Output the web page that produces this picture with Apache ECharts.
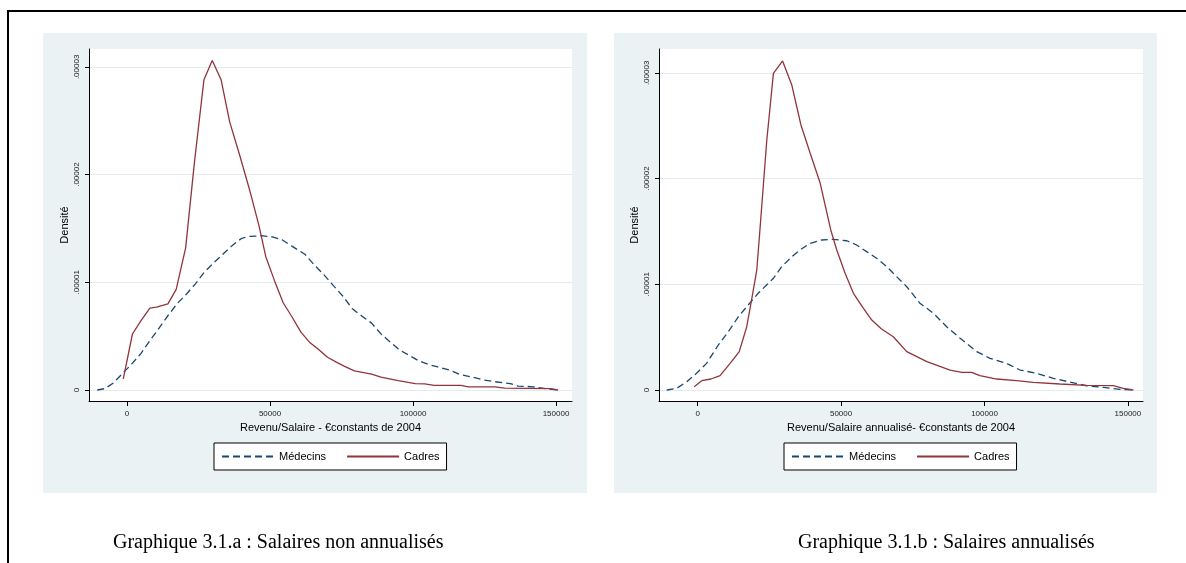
<!DOCTYPE html>
<html>
<head>
<meta charset="utf-8">
<script src="https://cdn.jsdelivr.net/npm/echarts@6/dist/echarts.min.js"></script>
<style>
  html, body { margin: 0; padding: 0; background: #fff; }
  #main { width: 1186px; height: 563px; }
</style>
</head>
<body>
<div id="main"></div>
<script>
// kernel density estimates: [revenu, densité]
const medecinsA = [[-10400,0],[-7700,1.3e-7],[-4700,6.7e-7],[-1700,1.5e-6],[1600,2.4e-6],[4900,3.4e-6],[7900,4.54e-6],[10900,5.64e-6],[14200,6.87e-6],[17600,8.04e-6],[20900,8.94e-6],[24000,9.88e-6],[26900,1.09e-5],[30200,1.178e-5],[33300,1.255e-5],[36600,1.338e-5],[39900,1.405e-5],[42200,1.425e-5],[47500,1.432e-5],[50800,1.422e-5],[54200,1.395e-5],[57500,1.338e-5],[62200,1.26e-5],[65500,1.161e-5],[68800,1.071e-5],[72100,9.71e-6],[75500,8.71e-6],[78800,7.54e-6],[82100,6.87e-6],[85500,6.21e-6],[88800,5.21e-6],[92100,4.44e-6],[95400,3.7e-6],[98800,3.2e-6],[102100,2.7e-6],[105400,2.37e-6],[108700,2.14e-6],[112700,1.87e-6],[116100,1.47e-6],[120700,1.2e-6],[124700,9.3e-7],[128700,7.7e-7],[134000,6e-7],[136700,3.7e-7],[142000,3e-7],[147300,1e-7],[150700,0]];
const cadresA = [[-1300,1.03e-6],[1900,5.2e-6],[4900,6.44e-6],[8000,7.6e-6],[10300,7.7e-6],[14300,8.0e-6],[17200,9.34e-6],[20500,1.32e-5],[23600,2.12e-5],[26900,2.88e-5],[29800,3.06e-5],[32900,2.88e-5],[35900,2.49e-5],[39500,2.17e-5],[42900,1.855e-5],[46200,1.52e-5],[48500,1.24e-5],[51500,1.02e-5],[54600,8.1e-6],[57500,6.87e-6],[60800,5.37e-6],[63800,4.44e-6],[66800,3.8e-6],[70100,3.04e-6],[73500,2.54e-6],[76100,2.2e-6],[79500,1.77e-6],[85500,1.47e-6],[88800,1.2e-6],[94800,8.7e-7],[100800,6e-7],[104100,5.7e-7],[107400,4.3e-7],[116700,4.3e-7],[119400,3e-7],[128700,3e-7],[132000,1.7e-7],[148000,1.3e-7],[150700,0]];
const medecinsB = [[-10800,0],[-7300,1.6e-7],[-3800,7.9e-7],[-400,1.58e-6],[3100,2.52e-6],[7200,4.26e-6],[10700,5.52e-6],[14200,6.94e-6],[17600,8.04e-6],[21100,9.15e-6],[26400,1.057e-5],[29300,1.167e-5],[32800,1.261e-5],[35700,1.325e-5],[39200,1.388e-5],[43200,1.419e-5],[47300,1.425e-5],[52000,1.412e-5],[55400,1.372e-5],[58900,1.309e-5],[62400,1.246e-5],[65900,1.167e-5],[68200,1.104e-5],[72900,9.77e-6],[77500,8.2e-6],[82200,7.26e-6],[86800,5.99e-6],[91500,4.89e-6],[97300,3.63e-6],[101900,3e-6],[107700,2.52e-6],[112400,1.89e-6],[118200,1.58e-6],[124000,1.1e-6],[129800,7.5e-7],[135600,4e-7],[141500,2.5e-7],[147300,6e-8],[151900,0]];
const cadresB = [[-1200,3.1e-7],[1400,8.8e-7],[4600,1.04e-6],[7800,1.36e-6],[11300,2.52e-6],[14500,3.63e-6],[17100,5.99e-6],[18800,8.52e-6],[20600,1.135e-5],[21700,1.514e-5],[24100,2.365e-5],[26400,2.996e-5],[29600,3.113e-5],[32800,2.886e-5],[36000,2.507e-5],[39200,2.242e-5],[42700,1.958e-5],[46400,1.514e-5],[48500,1.325e-5],[51400,1.104e-5],[54300,9.15e-6],[57800,7.73e-6],[60700,6.62e-6],[64000,5.8e-6],[68200,5.04e-6],[72900,3.63e-6],[79900,2.68e-6],[88000,1.89e-6],[92100,1.67e-6],[95500,1.67e-6],[98400,1.36e-6],[104300,1.04e-6],[111200,8.8e-7],[117000,7.3e-7],[126300,5.7e-7],[135600,4.4e-7],[144900,4.1e-7],[148400,1.6e-7],[151900,0]];

const xTicks = [0, 50000, 100000, 150000];
const yTicks = [0, 0.00001, 0.00002, 0.00003];
const seriesNames = ['Médecins', 'Cadres'];
const xTitles = ['Revenu/Salaire - €constants de 2004', 'Revenu/Salaire annualisé- €constants de 2004'];
const captions = ['Graphique 3.1.a : Salaires non annualisés', 'Graphique 3.1.b : Salaires annualisés'];

const NAVY = '#1a476f';
const MAROON = '#90353b';
const BG = '#eaf2f3';
const SANS = 'Liberation Sans';

let myChart = echarts.init(document.getElementById('main'));

function fmtDensity(v) {
  return v === 0 ? '0' : v.toFixed(5).replace(/^0/, '');
}

function xAxisFor(i, min, max) {
  return {
    type: 'value', gridIndex: i, min: min, max: max,
    name: xTitles[i], nameLocation: 'middle', nameGap: 21,
    nameTextStyle: { fontFamily: SANS, fontSize: 11, color: '#000' },
    axisLine: { show: true, onZero: false, lineStyle: { color: '#000', width: 1 } },
    axisTick: { show: true, length: 5, customValues: xTicks, lineStyle: { color: '#000' } },
    axisLabel: { customValues: xTicks, margin: 9, fontFamily: SANS, fontSize: 8, color: '#222',
      formatter: (v) => String(v) },
    splitLine: { show: false }
  };
}

function yAxisFor(i, min, max) {
  return {
    type: 'value', gridIndex: i, min: min, max: max,
    name: 'Densité', nameLocation: 'middle', nameRotate: 90, nameGap: 19,
    nameTextStyle: { fontFamily: SANS, fontSize: 11, color: '#000' },
    axisLine: { show: true, onZero: false, lineStyle: { color: '#000', width: 1 } },
    axisTick: { show: true, length: 4, customValues: yTicks, lineStyle: { color: '#000' } },
    axisLabel: { customValues: yTicks, rotate: 90, margin: 8, fontFamily: SANS, fontSize: 8, color: '#222', formatter: fmtDensity },
    splitLine: { show: true, lineStyle: { color: '#e2ebee', width: 1 } }
  };
}

function lineSeries(name, i, data) {
  let dashed = name === seriesNames[0];
  let color = dashed ? NAVY : MAROON;
  return {
    name: name, type: 'line', xAxisIndex: i, yAxisIndex: i, data: data,
    symbol: 'none', showSymbol: false, smooth: false,
    lineStyle: { color: color, width: 1.3, type: dashed ? [7, 4] : 'solid' },
    itemStyle: { color: color }
  };
}

function legendAt(left) {
  return {
    data: seriesNames, left: left, top: 443, orient: 'horizontal',
    padding: [8, 7], itemGap: 20, itemWidth: 52, itemHeight: 12,
    borderColor: '#000', borderWidth: 1, borderRadius: 0, backgroundColor: '#fff',
    selectedMode: false,
    itemStyle: { opacity: 0 },
    textStyle: { fontFamily: SANS, fontSize: 11, color: '#000' }
  };
}

let option = {
  animation: false,
  backgroundColor: '#fff',
  graphic: [
    { type: 'rect', shape: { x: 43, y: 33, width: 544, height: 460 }, style: { fill: BG }, z: -10 },
    { type: 'rect', shape: { x: 614, y: 33, width: 543, height: 460 }, style: { fill: BG }, z: -10 },
    { type: 'line', shape: { x1: 7, y1: 11, x2: 1186, y2: 11 }, style: { stroke: '#000', lineWidth: 2 } },
    { type: 'line', shape: { x1: 8, y1: 10, x2: 8, y2: 563 }, style: { stroke: '#000', lineWidth: 2 } }
  ],
  title: [
    { text: captions[0], left: 113, top: 533, padding: 0,
      textStyle: { fontFamily: 'Liberation Serif', fontSize: 20, fontWeight: 'normal', color: '#000' } },
    { text: captions[1], left: 798, top: 533, padding: 0,
      textStyle: { fontFamily: 'Liberation Serif', fontSize: 20, fontWeight: 'normal', color: '#000' } }
  ],
  grid: [
    { left: 89, top: 49, width: 483, height: 352, show: true, backgroundColor: '#fff', borderWidth: 0 },
    { left: 659, top: 49, width: 484, height: 352, show: true, backgroundColor: '#fff', borderWidth: 0 }
  ],
  xAxis: [xAxisFor(0, -13290, 155590), xAxisFor(1, -13490, 155270)],
  yAxis: [yAxisFor(0, -1.02e-6, 3.166e-5), yAxisFor(1, -1.04e-6, 3.226e-5)],
  legend: [legendAt(214), legendAt(784)],
  series: [
    lineSeries('Médecins', 0, medecinsA),
    lineSeries('Cadres', 0, cadresA),
    lineSeries('Médecins', 1, medecinsB),
    lineSeries('Cadres', 1, cadresB)
  ]
};

myChart.setOption(option);
</script>
</body>
</html>
